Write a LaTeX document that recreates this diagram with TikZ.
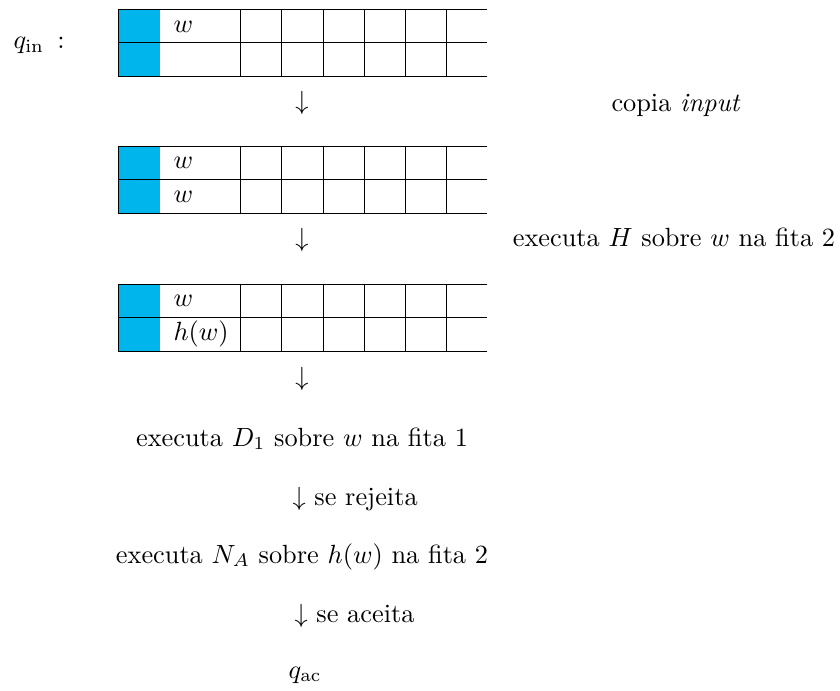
\documentclass[tikz,border=0pt]{standalone}
\usepackage{amsmath}
\definecolor{tapeblue}{RGB}{0,181,236}
\begin{document}
\begin{tikzpicture}[x=0.38pt,y=-0.38pt,
  txt/.style={inner sep=0pt,anchor=base},
  celltxt/.style={inner sep=0pt,anchor=base west},
  grid/.style={line width=0.35pt,draw=black}]
\useasboundingbox (0,0) rectangle (840,691);
\newcommand\drawtape[4]{%
  \fill[tapeblue] (118,#2) rectangle (160,#2+67);
  \draw[grid] (487,#2) -- (118,#2) -- (118,#2+67) -- (487,#2+67);
  \draw[grid] (118,#2+33.5) -- (487,#2+33.5);
  \foreach \xx in {240,281.5,323,364,405.5,446.5}
    \draw[grid] (\xx,#2) -- (\xx,#2+67);
  \node[celltxt] (#1a) at (173,#2+23) {#3};
  \node[celltxt] (#1b) at (173,#2+56.5) {#4};
}
% state label
\node[txt,anchor=base west] (qin) at (13,48.5) {$q_{\mathrm{in}}$\hspace{5pt}:};
% tapes
\drawtape{ta}{9.3}{$w$}{}
\drawtape{tb}{146}{$w$}{$w$}
\drawtape{tc}{284}{$w$}{$h(w)$}
% arrows and labels
\node[txt] (d1) at (302,110) {$\downarrow$};
\node[txt] (l1) at (676,112) {copia \textit{input}};
\node[txt] (d2) at (302,247) {$\downarrow$};
\node[txt] (l2) at (674,247) {executa $H$ sobre $w$ na fita 2};
\node[txt] (d3) at (302,385) {$\downarrow$};
\node[txt] (s1) at (302,446) {executa $D_1$ sobre $w$ na fita 1};
\node[txt,anchor=base west] (r1) at (292,505) {$\downarrow$ se rejeita};
\node[txt] (s2) at (302,563) {executa $N_A$ sobre $h(w)$ na fita 2};
\node[txt,anchor=base west] (r2) at (294,622) {$\downarrow$ se aceita};
\node[txt,anchor=base west] (qac) at (288,678) {$q_{\mathrm{ac}}$};
\end{tikzpicture}
\end{document}
